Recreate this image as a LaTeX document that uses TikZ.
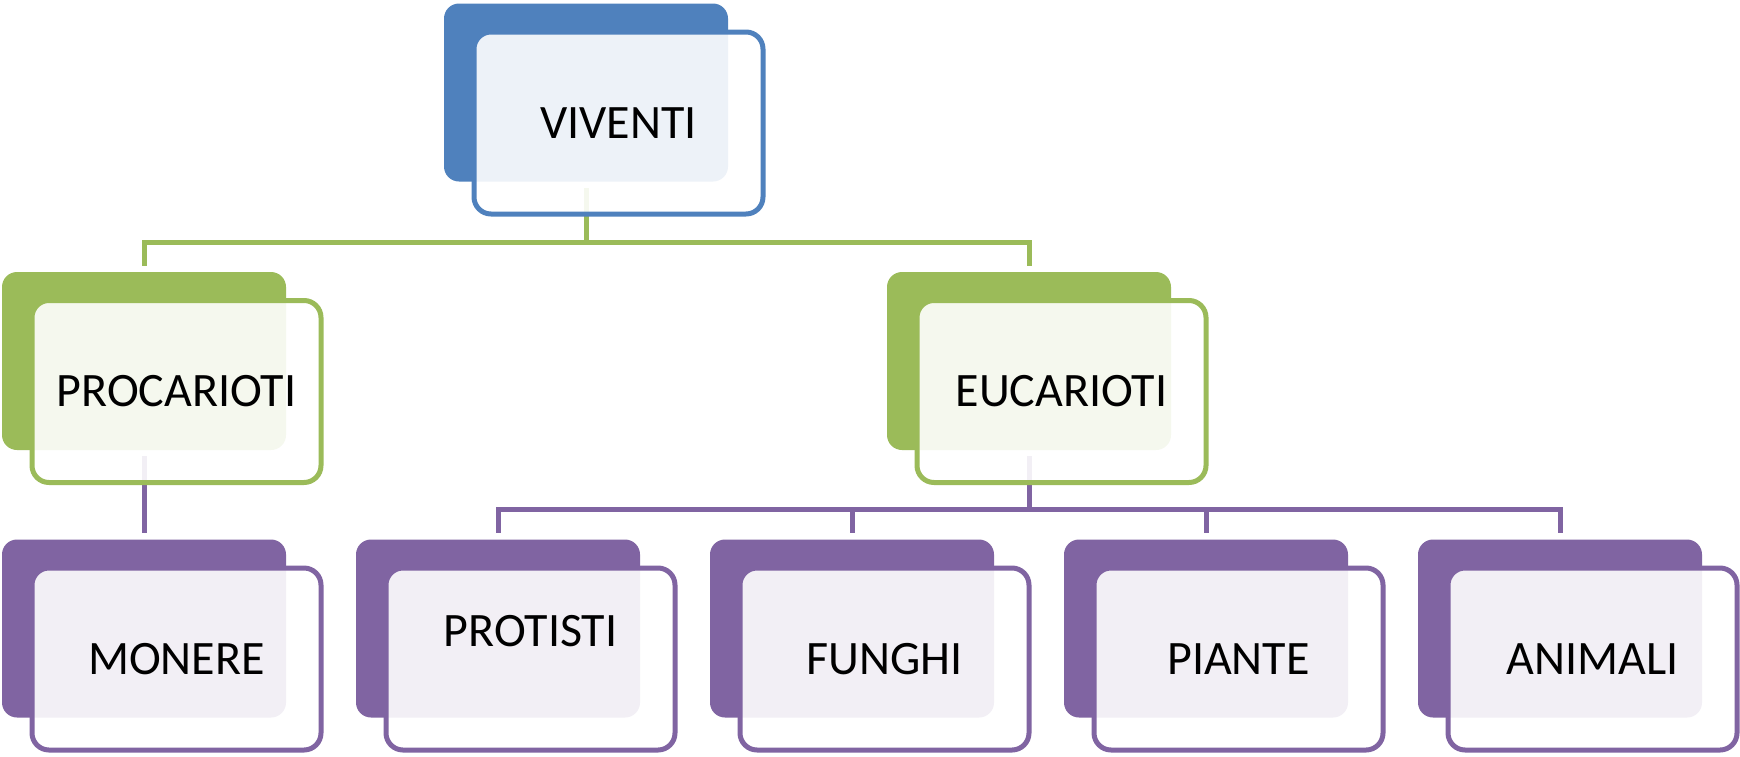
\documentclass[tikz,border=0pt]{standalone}
\usepackage{fontspec}
\setmainfont{Carlito}
\definecolor{vblue}{HTML}{4F81BD}
\definecolor{vgreen}{HTML}{9BBB59}
\definecolor{vpurple}{HTML}{8064A2}

\begin{document}
\begin{tikzpicture}[x=0.5pt,y=-0.5pt,
    back/.style={fill=#1, rounded corners=7.5pt, minimum width=142pt, minimum height=89pt, inner sep=0pt},
    front/.style={draw=#1, line width=2.5pt, fill=white, fill opacity=0.9, text opacity=1,
      rounded corners=8.5pt, minimum width=144.5pt, minimum height=91pt, inner sep=0pt,
      font=\fontsize{24}{29}\selectfont, shift={(32.5,30.5)}},
    link/.style={draw=#1, line width=2.5pt}]
  \useasboundingbox (0,0) rectangle (1740,756);
  % back boxes
  \node[back=vblue] (viventi-b) at (586,92.5) {};
  \node[back=vgreen] (procarioti-b) at (144,361) {};
  \node[back=vgreen] (eucarioti-b) at (1029,361) {};
  \node[back=vpurple] (monere-b) at (144,628.5) {};
  \node[back=vpurple] (protisti-b) at (498,628.5) {};
  \node[back=vpurple] (funghi-b) at (852,628.5) {};
  \node[back=vpurple] (piante-b) at (1206,628.5) {};
  \node[back=vpurple] (animali-b) at (1560,628.5) {};
  % connectors
  \coordinate (bus1) at (586,242);
  \coordinate (bus2) at (1029,509);
  \draw[link=vgreen] ([yshift=-3pt]viventi-b.south) -- (bus1);
  \draw[link=vgreen] (bus1) -| ([yshift=3pt]procarioti-b.north);
  \draw[link=vgreen] (bus1) -| ([yshift=3pt]eucarioti-b.north);
  \draw[link=vpurple] ([yshift=-3pt]procarioti-b.south) -- ([yshift=3pt]monere-b.north);
  \draw[link=vpurple] ([yshift=-3pt]eucarioti-b.south) -- (bus2);
  \draw[link=vpurple] (bus2) -| ([yshift=3pt]protisti-b.north);
  \draw[link=vpurple] (bus2) -| ([yshift=3pt]funghi-b.north);
  \draw[link=vpurple] (bus2) -| ([yshift=3pt]piante-b.north);
  \draw[link=vpurple] (bus2) -| ([yshift=3pt]animali-b.north);
  % front boxes
  \node[front=vblue] (viventi) at (viventi-b) {VIVENTI};
  \node[front=vgreen] (procarioti) at (procarioti-b) {PROCARIOTI};
  \node[front=vgreen] (eucarioti) at (eucarioti-b) {EUCARIOTI};
  \node[front=vpurple] (monere) at (monere-b) {MONERE};
  \node[front=vpurple] (protisti) at (protisti-b) {\raisebox{14pt}[\height][\depth]{PROTISTI}};
  \node[front=vpurple] (funghi) at (funghi-b) {FUNGHI};
  \node[front=vpurple] (piante) at (piante-b) {PIANTE};
  \node[front=vpurple] (animali) at (animali-b) {ANIMALI};
\end{tikzpicture}
\end{document}
